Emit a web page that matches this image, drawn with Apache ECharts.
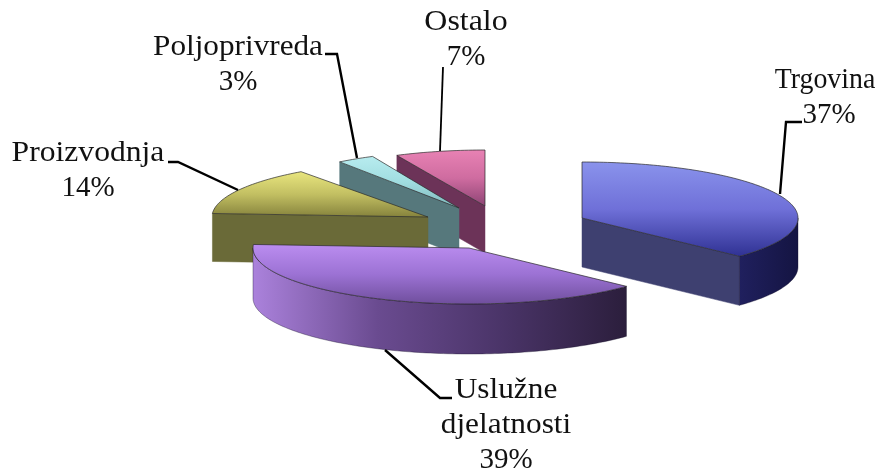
<!DOCTYPE html>
<html>
<head>
<meta charset="utf-8">
<style>html,body{margin:0;padding:0;background:#fff}#c{width:891px;height:474px;filter:blur(0.4px)}</style>
<script src="https://cdn.jsdelivr.net/npm/echarts@6/dist/echarts.min.js"></script>
</head>
<body>
<div id="c"></div>
<script>
// ---- data ----
const categories = ['Trgovina', 'Uslužne\ndjelatnosti', 'Proizvodnja', 'Poljoprivreda', 'Ostalo'];
const values = [37, 39, 14, 3, 7];

// ---- pie layout and styles ----
const pieCenter = [490, 225];
const radiusX = [216, 216, 216, 203, 207];
const radiusY = [56, 56, 56, 57, 56];
const depth = [49, 50, 48, 47, 47];
const explode = [[92, -7], [-21, 23], [-62, -8], [-31, -17], [-5, -19]];
const drawOrder = [4, 3, 2, 0, 1];
const topColors = [
  ['#8a93ec', '#6f70d8', '#2f3193'],
  ['#bb8df0', '#9c72d4', '#6f4e9c'],
  ['#e9e67f', '#c2bf62', '#85823c'],
  ['#b8ecef', '#a0dde0', '#7fb8bc'],
  ['#e882b4', '#cf6ca0', '#8d4474']
];
const cutColors = ['#3e4070', '#000', '#6a6a38', '#56787c', '#6c3358'];
const sideColors = [
  ['#20205e', '#141442'],
  ['#ab82dc', '#6a4b90', '#4a3468', '#2b1e3c'],
  ['#6a6a38', '#6a6a38'], ['#56787c', '#56787c'], ['#6c3358', '#6c3358']
];
const labelFirstLineY = [80, 390, 153, 47, 22];
const labelX = [825, 506, 88, 238, 466];
const valueShiftX = [4, 0, 0, 0, 0];
const nameStretch = [0.96, 1.08, 1.09, 1.076, 1.1];
const leaders = [
  [[802, 122], [786, 122], [780, 194]],
  [[452, 398], [440, 398], [385, 350]],
  [[168, 162], [178, 162], [238, 190]],
  [[325, 54], [337, 54], [357, 158]],
  [[443, 67], [440, 151]]
];
const leaderWidth = [2.4, 2.4, 2.4, 2.4, 1.8];
const labelFont = 'Liberation Serif';
const labelSize = 29;
const labelLine = 35;
const edge = '#2a2a2a';

const total = values.reduce((a, b) => a + b, 0);
const startAngles = [];
values.reduce((acc, v, i) => { startAngles[i] = acc; return acc + v; }, 0);

function grad(x2, y2, cols) {
  const stops = cols.map((c, i) => ({ offset: i / (cols.length - 1), color: c }));
  return new echarts.graphic.LinearGradient(0, 0, x2, y2, stops);
}

function renderSlice(params, api) {
  const i = api.value(1);
  const v = api.value(0);
  const a0 = startAngles[i] / total * Math.PI * 2;
  const a1 = a0 + v / total * Math.PI * 2;
  const cx = pieCenter[0] + explode[i][0];
  const cy = pieCenter[1] + explode[i][1];
  const rx = radiusX[i], ry = radiusY[i], d = depth[i];
  const pt = a => [cx + rx * Math.sin(a), cy - ry * Math.cos(a)];
  const arc = (s, e) => {
    const n = Math.max(2, Math.ceil(Math.abs(e - s) / 0.02));
    const out = [];
    for (let k = 0; k <= n; k++) out.push(pt(s + (e - s) * k / n));
    return out;
  };
  const down = p => [p[0], p[1] + d];
  const children = [];
  const face = (a) => {
    const p = pt(a);
    children.push({
      type: 'polygon',
      shape: { points: [[cx, cy], p, down(p), [cx, cy + d]] },
      style: { fill: cutColors[i], stroke: cutColors[i], lineWidth: 0.5 }
    });
  };
  if (Math.sin(a0) < -0.01) face(a0);
  if (Math.sin(a1) > 0.01) face(a1);
  // outer wall: only where the rim faces the viewer
  const s = Math.max(a0, Math.PI / 2), e = Math.min(a1, Math.PI * 1.5);
  if (e > s) {
    const top = arc(s, e);
    const cols = sideColors[i];
    children.push({
      type: 'polygon',
      shape: { points: top.concat(top.map(down).reverse()) },
      style: { fill: grad(1, 0, i === 1 ? cols : cols), stroke: 'rgba(20,15,40,0.6)', lineWidth: 0.6 }
    });
  }
  children.push({
    type: 'polygon',
    shape: { points: [[cx, cy]].concat(arc(a0, a1)) },
    style: { fill: grad(0, 1, topColors[i]), stroke: edge, lineWidth: 0.7, lineJoin: 'round' }
  });
  return { type: 'group', children };
}

function renderLabel(params, api) {
  const i = api.value(1);
  const names = categories[i].split('\n');
  const lines = names.map((t, k) => ({ t, stretch: nameStretch[i], shift: 0, k }));
  lines.push({ t: api.value(0) + '%', stretch: 1, shift: valueShiftX[i], k: names.length });
  const children = [{
    type: 'polyline',
    shape: { points: leaders[i] },
    style: { fill: null, stroke: '#000', lineWidth: leaderWidth[i] }
  }];
  lines.forEach(l => {
    const x = labelX[i] + l.shift;
    const y = labelFirstLineY[i] + l.k * labelLine;
    children.push({
      type: 'text',
      x, y, scaleX: l.stretch,
      style: {
        x: 0, y: 0, text: l.t,
        align: 'center', verticalAlign: 'middle',
        fontFamily: labelFont, fontSize: labelSize, fill: '#111'
      }
    });
  });
  return { type: 'group', children };
}

const chart = echarts.init(document.getElementById('c'), null, { renderer: 'canvas' });
chart.setOption({
  animation: false,
  backgroundColor: '#fff',
  series: [
    { type: 'custom', coordinateSystem: 'none', silent: true, z: 2, clip: false,
      data: drawOrder.map(i => [values[i], i]), renderItem: renderSlice },
    { type: 'custom', coordinateSystem: 'none', silent: true, z: 3, clip: false,
      data: values.map((v, i) => [v, i]), renderItem: renderLabel }
  ]
});
</script>
</body>
</html>
